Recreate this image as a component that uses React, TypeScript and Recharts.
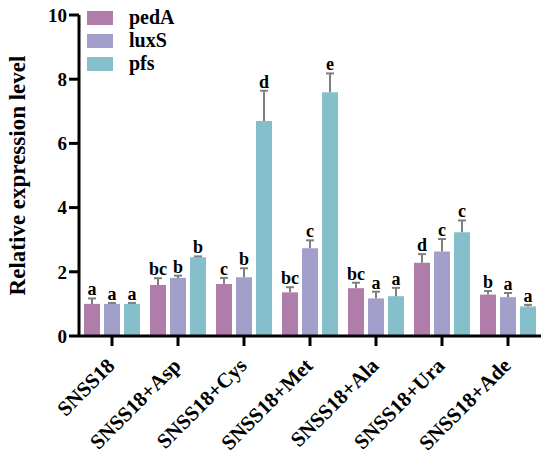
import { BarChart, Bar, XAxis, YAxis, LabelList } from 'recharts';

const categories = ['SNSS18', 'SNSS18+Asp', 'SNSS18+Cys', 'SNSS18+Met', 'SNSS18+Ala', 'SNSS18+Ura', 'SNSS18+Ade'];

const pedA = [1.0, 1.59, 1.62, 1.36, 1.49, 2.28, 1.29];
const pedAErr = [0.17, 0.21, 0.19, 0.16, 0.17, 0.27, 0.11];
const pedALetters = ['a', 'bc', 'c', 'bc', 'bc', 'd', 'b'];

const luxS = [1.0, 1.81, 1.83, 2.73, 1.17, 2.63, 1.21];
const luxSErr = [0.03, 0.07, 0.28, 0.25, 0.21, 0.39, 0.13];
const luxSLetters = ['a', 'b', 'b', 'c', 'a', 'c', 'a'];

const pfs = [1.0, 2.45, 6.7, 7.59, 1.24, 3.23, 0.92];
const pfsErr = [0.03, 0.03, 0.94, 0.59, 0.26, 0.37, 0.05];
const pfsLetters = ['a', 'b', 'd', 'e', 'a', 'c', 'a'];

const yTicks = [0, 2, 4, 6, 8, 10];

const COLORS = { pedA: '#b07daa', luxS: '#a29fca', pfs: '#85bfcb' };
const FONT = '"Liberation Serif", "Times New Roman", serif';

const data = categories.map((name, i) => ({
  name,
  pedA: pedA[i],
  luxS: luxS[i],
  pfs: pfs[i],
}));

// error bar (upper half only) + significance letter, scaled from the bar's own pixel height
function makeTop(letters: string[], values: number[], errs: number[]) {
  return function Top(props: any) {
    const { x = 0, y = 0, width = 0, height = 0, index = 0 } = props;
    const perUnit = values[index] ? height / values[index] : 0;
    const top = y - errs[index] * perUnit;
    const cx = x + width / 2;
    return (
      <g>
        <line x1={cx} y1={y} x2={cx} y2={top} stroke="#7f7f7f" strokeWidth={2} />
        <line x1={cx - 4} y1={top} x2={cx + 4} y2={top} stroke="#7f7f7f" strokeWidth={2} />
        <text x={cx} y={top - 3} textAnchor="middle" fontFamily={FONT} fontWeight="bold" fontSize={18} fill="#000">
          {letters[index]}
        </text>
      </g>
    );
  };
}

function XTick(props: any) {
  const { x, y, payload } = props;
  const ax = x + 4;
  const ay = y + 19;
  return (
    <text x={ax} y={ay} textAnchor="end" transform={`rotate(-45, ${ax}, ${ay})`} fontFamily={FONT} fontWeight="bold" fontSize={21} fill="#000">
      {payload.value}
    </text>
  );
}

const legendItems = [
  { name: 'pedA', color: COLORS.pedA },
  { name: 'luxS', color: COLORS.luxS },
  { name: 'pfs', color: COLORS.pfs },
];

export default function App() {
  return (
    <div style={{ position: 'absolute', left: 0, top: 0, width: 550, height: 461, background: '#fff' }}>
      <BarChart
        width={550}
        height={461}
        data={data}
        margin={{ top: 15, right: 9, left: 0, bottom: 0 }}
        barCategoryGap={5}
        barGap={4}
      >
        <XAxis
          dataKey="name"
          height={125}
          interval={0}
          axisLine={{ stroke: '#000', strokeWidth: 3 }}
          tickLine={{ stroke: '#000', strokeWidth: 3 }}
          tickSize={10}
          tick={<XTick />}
        />
        <YAxis
          width={79}
          domain={[0, 10]}
          ticks={yTicks}
          interval={0}
          axisLine={{ stroke: '#000', strokeWidth: 3 }}
          tickLine={{ stroke: '#000', strokeWidth: 3 }}
          tickSize={10}
          tick={{ fontFamily: FONT, fontWeight: 'bold', fontSize: 19, fill: '#000' }}
          label={{
            value: 'Relative expression level',
            angle: -90,
            position: 'insideLeft',
            offset: 17,
            style: { fontFamily: FONT, fontWeight: 'bold', fontSize: 23, fill: '#000', textAnchor: 'middle' },
          }}
        />
        <Bar dataKey="pedA" fill={COLORS.pedA} isAnimationActive={false}>
          <LabelList dataKey="pedA" content={makeTop(pedALetters, pedA, pedAErr) as never} />
        </Bar>
        <Bar dataKey="luxS" fill={COLORS.luxS} isAnimationActive={false}>
          <LabelList dataKey="luxS" content={makeTop(luxSLetters, luxS, luxSErr) as never} />
        </Bar>
        <Bar dataKey="pfs" fill={COLORS.pfs} isAnimationActive={false}>
          <LabelList dataKey="pfs" content={makeTop(pfsLetters, pfs, pfsErr) as never} />
        </Bar>
      </BarChart>
      <div style={{ position: 'absolute', left: 87, top: 6 }}>
        {legendItems.map(it => (
          <div key={it.name} style={{ display: 'flex', alignItems: 'center', height: 23 }}>
            <div style={{ width: 26, height: 14, background: it.color, marginRight: 16 }} />
            <span style={{ fontFamily: FONT, fontWeight: 'bold', fontSize: 20, color: '#000' }}>{it.name}</span>
          </div>
        ))}
      </div>
    </div>
  );
}
